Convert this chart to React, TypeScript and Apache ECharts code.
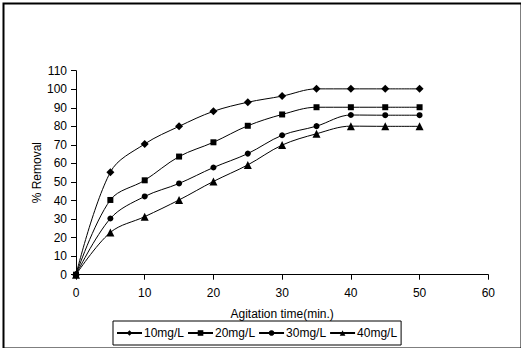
import React, { useEffect, useRef } from "react";
import * as echarts from "echarts";

const times = [0, 5, 10, 15, 20, 25, 30, 35, 40, 45, 50];
const s10 = [0, 55.3, 70.5, 80, 88.1, 93, 96.3, 100.2, 100.2, 100.2, 100.2];
const s20 = [0, 40.3, 50.9, 63.7, 71.4, 80.3, 86.4, 90.3, 90.3, 90.3, 90.3];
const s30 = [0, 30.3, 42.2, 49.2, 57.8, 65.3, 75.2, 80.1, 86.1, 86, 86];
const s40 = [0, 22.8, 31.3, 40.3, 50.3, 59.2, 69.9, 76, 80.1, 80, 80];
const seriesNames = ["10mg/L", "20mg/L", "30mg/L", "40mg/L"];
const seriesSymbols = ["diamond", "rect", "circle", "triangle"];
const seriesData = [s10, s20, s30, s40];

const FONT = "Liberation Sans, Arial, sans-serif";

export default function App() {
  const ref = useRef<HTMLDivElement>(null);
  useEffect(() => {
    if (!ref.current) return;
    const chart = echarts.init(ref.current, undefined, { renderer: "svg" });
    const series = seriesData.map((d, i) => ({
      name: seriesNames[i],
      type: "line",
      smooth: 0.35,
      data: d.map((v, j) => [times[j], v]),
      symbol: seriesSymbols[i],
      symbolSize: i === 0 ? 8 : i === 3 ? 8 : 6,
      showAllSymbol: true,
      lineStyle: { color: "#000", width: 1 },
      itemStyle: { color: "#000" },
    }));
    chart.setOption({
      animation: false,
      backgroundColor: "#fff",
      textStyle: { fontFamily: FONT },
      grid: { left: 76, top: 70.7, right: 32.7, bottom: 73.3, containLabel: false },
      xAxis: {
        type: "value",
        min: 0,
        max: 60,
        interval: 10,
        name: "Agitation time(min.)",
        nameLocation: "middle",
        nameGap: 33,
        nameMoveOverlap: false,
        nameTextStyle: { color: "#000", fontSize: 12, fontFamily: FONT },
        axisLine: { lineStyle: { color: "#000", width: 1 } },
        axisTick: { show: true, inside: false, length: 5, lineStyle: { color: "#000" } },
        axisLabel: { color: "#000", fontSize: 12, fontFamily: FONT, margin: 12 },
        splitLine: { show: false },
      },
      yAxis: {
        type: "value",
        min: 0,
        max: 110,
        interval: 10,
        name: "% Removal",
        nameLocation: "middle",
        nameGap: 33,
        nameMoveOverlap: false,
        nameRotate: 90,
        nameTextStyle: { color: "#000", fontSize: 12, fontFamily: FONT },
        axisLine: { show: true, lineStyle: { color: "#000", width: 1 } },
        axisTick: { show: true, inside: false, length: 5, lineStyle: { color: "#000" } },
        axisLabel: { color: "#000", fontSize: 12, fontFamily: FONT, margin: 9 },
        splitLine: { show: false },
      },
      legend: {
        data: seriesNames,
        left: 113,
        top: 321,
        orient: "horizontal",
        itemWidth: 25,
        itemHeight: 7,
        itemGap: 3,
        padding: [6, 4, 6, 3],
        borderColor: "#000",
        borderWidth: 1,
        textStyle: { color: "#000", fontSize: 12, fontFamily: FONT, padding: [0, 0, 0, -3] },
      },
      graphic: [
        {
          type: "rect",
          left: 1,
          top: 1,
          shape: { width: 518, height: 345 },
          style: { fill: "none", stroke: "#000", lineWidth: 2 },
          silent: true,
        },
      ],
      series,
    });
    return () => chart.dispose();
  }, []);
  return (
    <div
      ref={ref}
      style={{ position: "absolute", left: 0, top: 0, width: 521, height: 348 }}
    />
  );
}
